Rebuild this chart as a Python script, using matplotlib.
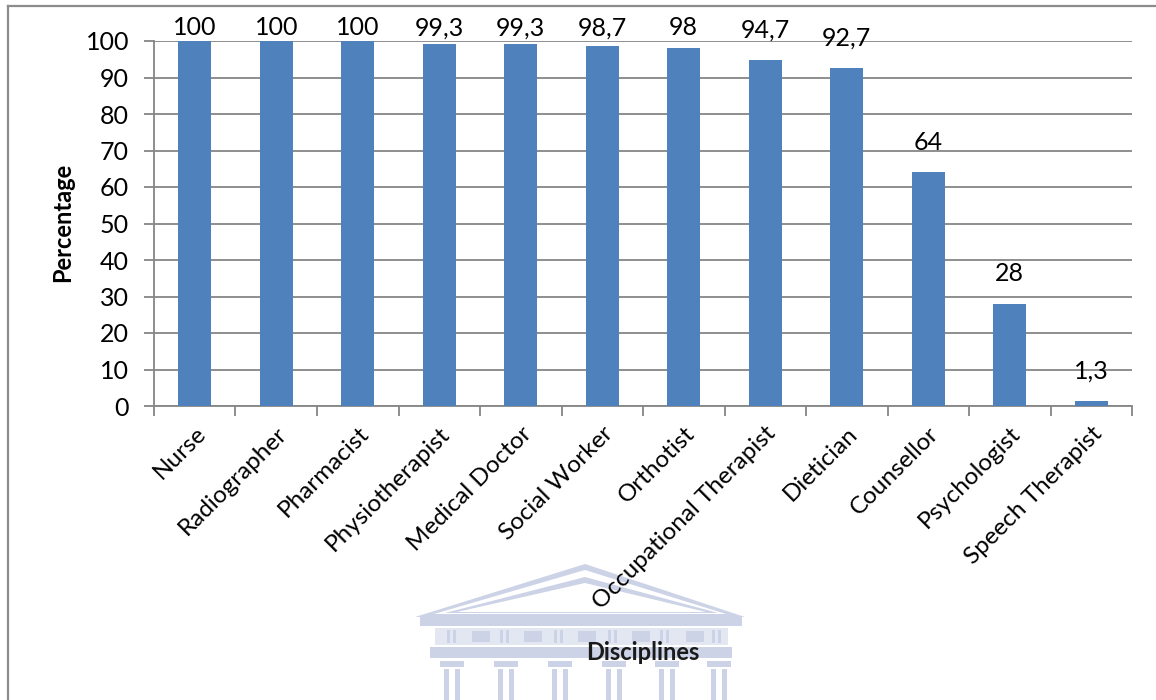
import matplotlib
matplotlib.use("Agg")
import matplotlib.pyplot as plt
from matplotlib.patches import Rectangle, Polygon
from matplotlib.lines import Line2D

plt.rcParams['font.family'] = ['Lato', 'DejaVu Sans']

disciplines = ["Nurse", "Radiographer", "Pharmacist", "Physiotherapist",
               "Medical Doctor", "Social Worker", "Orthotist",
               "Occupational Therapist", "Dietician", "Counsellor",
               "Psychologist", "Speech Therapist"]
percentages = [100, 100, 100, 99.3, 99.3, 98.7, 98, 94.7, 92.7, 64, 28, 1.3]
y_ticks = [0, 10, 20, 30, 40, 50, 60, 70, 80, 90, 100]

W, H = 1156, 700
fig = plt.figure(figsize=(W / 100, H / 100), dpi=100)
fig.patch.set_facecolor("white")


def px(x, y):
    return (x / W, 1 - y / H)


# faint building emblem behind everything else
wm = "#cdd3e6"
wm_light = "#e3e7f1"


def wpoly(pts, color):
    fig.patches.append(Polygon([px(*p) for p in pts], closed=True,
                               facecolor=color, edgecolor="none",
                               transform=fig.transFigure, zorder=-2))


wpoly([(415, 617), (585, 564), (745, 617)], wm)
wpoly([(434, 614), (585, 570), (726, 614)], "white")
wpoly([(445, 613), (585, 577), (718, 613)], wm)
wpoly([(457, 612), (585, 583), (706, 612)], "white")


def wrect(x0, y0, x1, y1, color=wm):
    (fx0, fy1), (fx1, fy0) = px(x0, y0), px(x1, y1)
    fig.patches.append(Rectangle((fx0, fy0), fx1 - fx0, fy1 - fy0,
                                 facecolor=color, edgecolor="none",
                                 transform=fig.transFigure, zorder=-2))


wrect(420, 617, 742, 626)
wrect(435, 628, 728, 645, wm_light)
for bx in [455, 508, 562, 616, 668, 720]:
    wrect(bx - 8, 630, bx - 5, 643)
    wrect(bx - 2, 630, bx + 1, 643)
for bx in [470, 522, 576, 630, 684]:
    wrect(bx + 2, 631, bx + 20, 642)
wrect(430, 647, 732, 658)
for cx in [452, 506, 560, 614, 667, 719]:
    wrect(cx - 12, 661, cx + 12, 667)
    wrect(cx - 8, 669, cx - 3, 700)
    wrect(cx + 3, 669, cx + 8, 700)

# outer chart frame
frame_c = "#8c8c8c"
fig.add_artist(Line2D([8 / W, 8 / W], [0, 1 - 6 / H], color=frame_c, lw=1.6,
                      transform=fig.transFigure))
fig.add_artist(Line2D([8 / W, 1], [1 - 6 / H, 1 - 6 / H], color=frame_c,
                      lw=1.6, transform=fig.transFigure))

ax = fig.add_axes([154 / W, 1 - 406 / H, (1132 - 154) / W, (406 - 41) / H])
ax.set_facecolor("none")
ax.set_zorder(1)

grid_c = "#868686"
x = list(range(len(disciplines)))
ax.bar(x, percentages, width=0.4, color="#4F81BD", zorder=3)

ax.set_xlim(-0.5, len(disciplines) - 0.5)
ax.set_ylim(0, 100)
ax.set_yticks(y_ticks)
ax.yaxis.grid(True, color=grid_c, lw=1.3, zorder=0)
ax.set_axisbelow(True)

for side in ["top", "right"]:
    ax.spines[side].set_visible(False)
for side in ["left", "bottom"]:
    ax.spines[side].set_color(grid_c)
    ax.spines[side].set_linewidth(1.3)

ax.tick_params(axis="y", direction="out", length=7, width=1.3, color=grid_c,
               labelsize=18, pad=11)
ax.set_xticks(x)
ax.set_xticklabels(disciplines, rotation=45, ha="right",
                   rotation_mode="anchor", fontsize=17.5)
ax.tick_params(axis="x", which="major", length=0, pad=12)
ax.set_xticks([i - 0.5 for i in range(len(disciplines) + 1)], minor=True)
ax.tick_params(axis="x", which="minor", direction="out", length=7, width=1.3,
               color=grid_c)

# value labels above each bar, kept inside the top margin
for xi, v in zip(x, percentages):
    label = f"{v:g}".replace(".", ",")
    ax.text(xi, min(v + 8.2, 103.6), label, ha="center", va="center",
            fontsize=18, color="black", clip_on=False, zorder=4)

fig.text(63 / W, 1 - 222 / H, "Percentage", rotation=90, ha="center",
         va="center", fontsize=17, fontweight="bold")
fig.text(643 / W, 1 - 652 / H, "Disciplines", ha="center", va="center",
         fontsize=17, fontweight="bold", color="#1a1a1a", zorder=3)

fig.savefig("out.png", dpi=100, facecolor="white")
